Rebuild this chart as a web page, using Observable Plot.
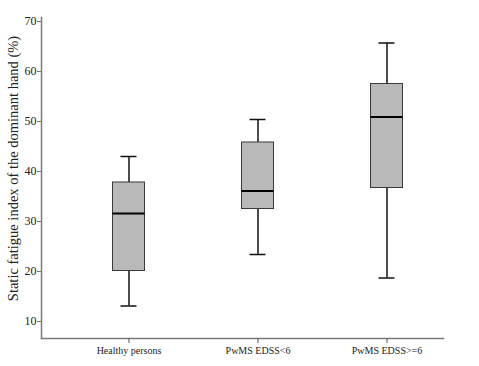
<!DOCTYPE html>
<html><head><meta charset="utf-8">
<script src="https://cdn.jsdelivr.net/npm/d3@7"></script>
<script src="https://cdn.jsdelivr.net/npm/@observablehq/plot@0.6"></script>
<style>body{margin:0;background:#fff}</style>
</head><body><div id="chart"></div>
<script>
const groups = ["Healthy persons", "PwMS EDSS<6", "PwMS EDSS>=6"];
const whiskerLow = [13.1, 23.4, 18.7];
const q1 = [20.1, 32.5, 36.7];
const median = [31.6, 36.1, 50.9];
const q3 = [37.8, 45.8, 57.5];
const whiskerHigh = [43.0, 50.4, 65.7];
const yTicks = [10, 20, 30, 40, 50, 60, 70];
const yLabel = "Static fatigue index of the dominant hand (%)";

const data = groups.map((g, i) => ({g, lo: whiskerLow[i], q1: q1[i], med: median[i], q3: q3[i], hi: whiskerHigh[i]}));

const chart = Plot.plot({
  width: 479, height: 366,
  marginLeft: 41, marginRight: 36, marginTop: 17, marginBottom: 28,
  style: {fontFamily: "Liberation Serif", background: "#fff", color: "#222"},
  x: {domain: groups, type: "band", range: [63.5, 450.5], paddingInner: 0, paddingOuter: 0, label: null},
  y: {domain: [6.6, 70.8], label: null},
  marks: [
    Plot.frame({anchor: "left", stroke: "#7a7a7a", strokeWidth: 1.5}),
    Plot.frame({anchor: "bottom", stroke: "#7a7a7a", strokeWidth: 1.5}),
    Plot.axisY({ticks: yTicks, tickSize: 4, tickPadding: 1, fontSize: 12, fontFamily: "Liberation Serif", stroke: "#7a7a7a", fill: "#222", label: null}),
    Plot.axisX({tickSize: 5, tickPadding: 3, fontSize: 10, fontFamily: "Liberation Serif", stroke: "#555", fill: "#222", label: null}),
    Plot.ruleX(data, {x: "g", y1: "lo", y2: "q1", stroke: "#111", strokeWidth: 1.5}),
    Plot.ruleX(data, {x: "g", y1: "q3", y2: "hi", stroke: "#111", strokeWidth: 1.5}),
    Plot.tickY(data, {x: "g", y: "lo", insetLeft: 56.5, insetRight: 56.5, stroke: "#111", strokeWidth: 1.5}),
    Plot.tickY(data, {x: "g", y: "hi", insetLeft: 56.5, insetRight: 56.5, stroke: "#111", strokeWidth: 1.5}),
    Plot.barY(data, {x: "g", y1: "q1", y2: "q3", insetLeft: 48.5, insetRight: 48.5, fill: "#b9b9b9", stroke: "#3a3a3a", strokeWidth: 1}),
    Plot.tickY(data, {x: "g", y: "med", insetLeft: 48.5, insetRight: 48.5, stroke: "#000", strokeWidth: 2}),
    Plot.text([yLabel], {frameAnchor: "left", y: [40.6], text: d => d, rotate: -90, dx: -28, textAnchor: "middle", fontSize: 14.5, fontFamily: "Liberation Serif", fill: "#222"})
  ]
});
document.getElementById("chart").appendChild(chart);
</script></body></html>
